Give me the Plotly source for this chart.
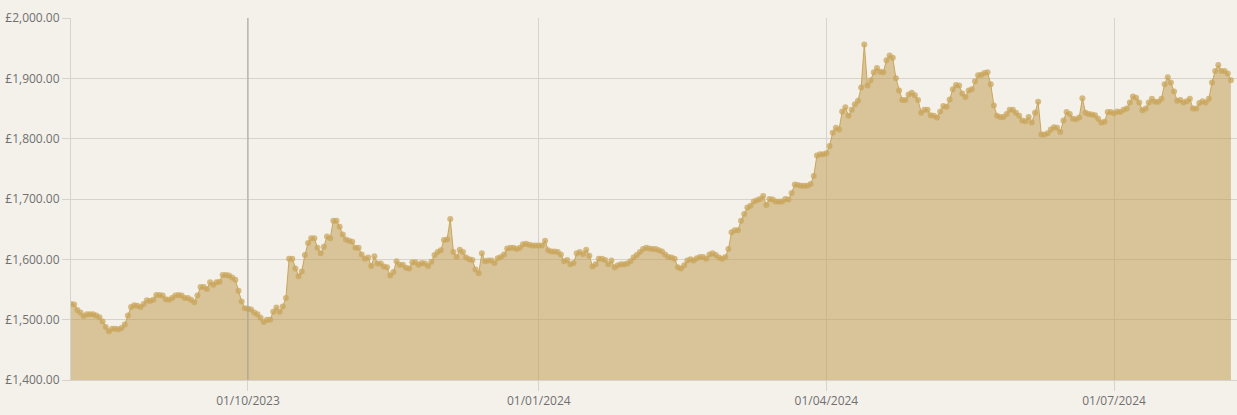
import pandas as pd
import plotly.graph_objects as go

start_date = "2023-08-06"
prices = [
    1526, 1525, 1516, 1512, 1506, 1509, 1509, 1509, 1507, 1504,
    1497, 1488, 1481, 1485, 1485, 1484, 1486, 1492, 1507, 1521,
    1524, 1523, 1521, 1526, 1532, 1531, 1533, 1541, 1541, 1540,
    1534, 1533, 1536, 1540, 1541, 1540, 1536, 1536, 1533, 1529,
    1540, 1554, 1554, 1551, 1562, 1558, 1562, 1563, 1574, 1574,
    1573, 1570, 1566, 1548, 1530, 1519, 1518, 1517, 1512, 1509,
    1503, 1496, 1500, 1500, 1513, 1520, 1513, 1522, 1536, 1601,
    1601, 1585, 1572, 1580, 1607, 1627, 1635, 1635, 1619, 1610,
    1621, 1638, 1635, 1664, 1664, 1654, 1641, 1633, 1631, 1629,
    1619, 1619, 1608, 1601, 1603, 1589, 1605, 1593, 1593, 1588,
    1587, 1573, 1579, 1597, 1591, 1591, 1586, 1585, 1595, 1595,
    1591, 1594, 1593, 1589, 1596, 1607, 1612, 1615, 1632, 1633,
    1667, 1612, 1604, 1616, 1612, 1603, 1600, 1599, 1583, 1577,
    1610, 1597, 1598, 1598, 1594, 1602, 1604, 1608, 1618, 1619,
    1619, 1617, 1619, 1625, 1626, 1624, 1623, 1623, 1623, 1623,
    1631, 1615, 1613, 1613, 1612, 1608, 1597, 1599, 1592, 1594,
    1610, 1612, 1609, 1616, 1606, 1588, 1592, 1601, 1601, 1599,
    1592, 1598, 1587, 1590, 1592, 1592, 1593, 1597, 1603, 1607,
    1612, 1617, 1619, 1618, 1617, 1617, 1615, 1613, 1608, 1604,
    1603, 1601, 1587, 1585, 1590, 1598, 1600, 1598, 1602, 1604,
    1604, 1601, 1608, 1610, 1607, 1603, 1601, 1604, 1617, 1645,
    1648, 1648, 1664, 1675, 1686, 1689, 1696, 1698, 1700, 1705,
    1690, 1700, 1699, 1696, 1696, 1696, 1700, 1699, 1710, 1724,
    1723, 1722, 1722, 1722, 1725, 1738, 1772, 1774, 1774, 1776,
    1788, 1810, 1818, 1815, 1845, 1852, 1838, 1848, 1857, 1863,
    1885, 1956, 1888, 1897, 1910, 1917, 1911, 1910, 1930, 1938,
    1934, 1900, 1880, 1864, 1864, 1873, 1876, 1872, 1864, 1843,
    1848, 1848, 1839, 1838, 1835, 1845, 1854, 1853, 1865, 1882,
    1889, 1888, 1875, 1869, 1880, 1882, 1895, 1905, 1906, 1909,
    1910, 1890, 1855, 1838, 1836, 1836, 1841, 1848, 1848, 1843,
    1838, 1830, 1829, 1836, 1827, 1843, 1861, 1807, 1807, 1809,
    1815, 1819, 1818, 1811, 1830, 1844, 1841, 1833, 1832, 1835,
    1867, 1843, 1841, 1840, 1839, 1833, 1827, 1828, 1844, 1844,
    1842, 1845, 1844, 1848, 1850, 1860, 1870, 1868, 1860, 1847,
    1850, 1860, 1866, 1861, 1861, 1866, 1890, 1902, 1893, 1878,
    1863, 1864, 1860, 1862, 1866, 1850, 1850, 1859, 1862, 1860,
    1866, 1893, 1912, 1922, 1912, 1912, 1908, 1897,
]
dates = pd.date_range(start_date, periods=len(prices), freq="D")

x_tick_dates = ["2023-10-01", "2024-01-01", "2024-04-01", "2024-07-01"]
x_tick_labels = ["01/10/2023", "01/01/2024", "01/04/2024", "01/07/2024"]
y_ticks = [1400, 1500, 1600, 1700, 1800, 1900, 2000]
y_tick_labels = ["£1,400.00", "£1,500.00", "£1,600.00", "£1,700.00",
                 "£1,800.00", "£1,900.00", "£2,000.00"]
hover_date = "2023-10-01"

bg = "#f4f1eb"
grid = "#d6d3cd"
gold = "#c9a65c"

fig = go.Figure()
fig.add_trace(go.Scatter(
    x=dates, y=prices, mode="lines+markers",
    line=dict(color=gold, width=1),
    marker=dict(color="rgba(201,166,92,0.75)", size=6),
    fill="tozeroy", fillcolor="rgba(193,159,84,0.55)",
    hoverinfo="skip",
))

fig.add_shape(type="line", xref="x", yref="paper",
              x0=hover_date, x1=hover_date, y0=0, y1=1,
              line=dict(color="#a7a29a", width=1))

font = dict(family="Open Sans, sans-serif", size=12, color="#707070")

fig.update_layout(
    width=1237, height=415,
    margin=dict(l=71, r=0, t=18, b=35),
    paper_bgcolor=bg, plot_bgcolor=bg,
    showlegend=False,
    font=font,
    hovermode=False,
    xaxis=dict(
        type="date",
        range=["2023-08-06", "2024-08-08 22:00"],
        tickvals=x_tick_dates, ticktext=x_tick_labels,
        showgrid=True, gridcolor=grid, gridwidth=1,
        ticks="outside", ticklen=10, tickcolor=grid,
        showline=True, linecolor=grid, linewidth=1,
        zeroline=False, tickfont=font,
    ),
    yaxis=dict(
        range=[1400, 2000],
        tickvals=y_ticks, ticktext=y_tick_labels,
        showgrid=True, gridcolor=grid, gridwidth=1,
        ticks="outside", ticklen=8, tickcolor=grid,
        showline=True, linecolor=grid, linewidth=1,
        zeroline=False, tickfont=font,
    ),
)

fig.write_html(
    "out.html",
    config={"displayModeBar": False},
    post_script="document.body.style.margin='0';document.body.style.overflow='hidden';",
)
